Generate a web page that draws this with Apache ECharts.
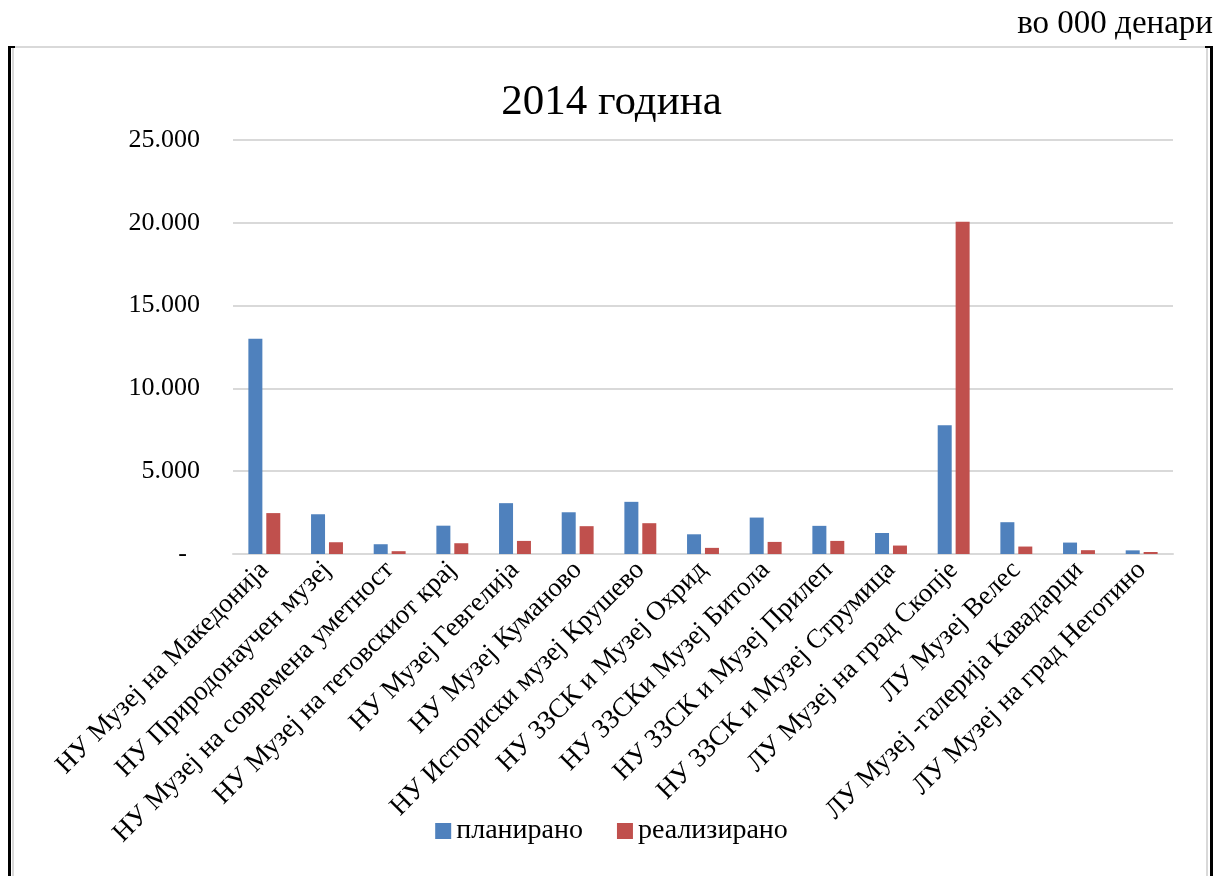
<!DOCTYPE html>
<html>
<head>
<meta charset="utf-8">
<script src="https://cdn.jsdelivr.net/npm/echarts@6/dist/echarts.min.js"></script>
<style>
html,body{margin:0;padding:0;background:#fff;}
#c{width:1223px;height:876px;}
</style>
</head>
<body>
<div id="c"></div>
<script>
const categories = [
  'НУ Музеј на Македонија',
  'НУ Природонаучен музеј',
  'НУ Музеј на современа уметност',
  'НУ Музеј на тетовскиот крај',
  'НУ Музеј Гевгелија',
  'НУ Музеј Куманово',
  'НУ Историски музеј Крушево',
  'НУ ЗЗСК и Музеј Охрид',
  'НУ ЗЗСКи Музеј Битола',
  'НУ ЗЗСК и Музеј Прилеп',
  'НУ ЗЗСК и Музеј Струмица',
  'ЛУ Музеј на град Скопје',
  'ЛУ Музеј Велес',
  'ЛУ Музеј -галерија Кавадарци',
  'ЛУ Музеј на град Неготино'
];
const planned  = [13000, 2400, 590, 1710, 3070, 2520, 3150, 1190, 2200, 1700, 1270, 7780, 1920, 690, 220];
const realized = [2470, 710, 170, 650, 790, 1680, 1860, 370, 730, 790, 510, 20060, 450, 230, 120];
const seriesNames = ['планирано', 'реализирано'];
const yTicks = [0, 5000, 10000, 15000, 20000, 25000];

const font = 'Liberation Serif';
const chart = echarts.init(document.getElementById('c'), null, {renderer: 'canvas'});

function fmt(v) {
  if (v === 0) return '-  ';
  return String(v).replace(/\B(?=(\d{3})+(?!\d))/g, '.');
}

chart.setOption({
  animation: false,
  backgroundColor: '#fff',
  textStyle: {fontFamily: font, color: '#000'},
  title: {
    text: '2014 година',
    left: 'center',
    top: 76,
    textStyle: {fontFamily: font, fontSize: 43, fontWeight: 'normal', color: '#000'}
  },
  legend: {
    data: seriesNames,
    bottom: 26,
    left: 'center',
    itemWidth: 16,
    itemHeight: 16,
    itemGap: 34,
    icon: 'rect',
    textStyle: {fontFamily: font, fontSize: 28, color: '#000'}
  },
  grid: {left: 233, right: 50, top: 140, bottom: 322, containLabel: false},
  xAxis: {
    type: 'category',
    data: categories,
    axisLine: {lineStyle: {color: '#d9d9d9', width: 2}},
    axisTick: {show: false},
    axisLabel: {
      rotate: 45,
      interval: 0,
      margin: 12,
      fontFamily: font,
      fontSize: 27,
      color: '#000'
    }
  },
  yAxis: {
    type: 'value',
    min: 0,
    max: 25000,
    interval: 5000,
    axisLine: {show: false},
    axisTick: {show: false},
    splitLine: {lineStyle: {color: '#d9d9d9', width: 2}},
    axisLabel: {
      margin: 33,
      fontFamily: font,
      fontSize: 26,
      color: '#000',
      formatter: fmt
    }
  },
  series: [
    {
      name: seriesNames[0],
      type: 'bar',
      data: planned,
      barWidth: 14,
      barGap: '28%',
      itemStyle: {color: '#4F81BD'}
    },
    {
      name: seriesNames[1],
      type: 'bar',
      data: realized,
      barWidth: 14,
      itemStyle: {color: '#C0504D'}
    }
  ],
  graphic: [
    {type: 'rect', shape: {x: 13, y: 47, width: 1194, height: 840}, style: {fill: 'none', stroke: '#d9d9d9', lineWidth: 2}, silent: true},
    {type: 'rect', shape: {x: 8, y: 46, width: 3, height: 840}, style: {fill: '#000'}, silent: true},
    {type: 'rect', shape: {x: 1210, y: 46, width: 3, height: 840}, style: {fill: '#000'}, silent: true},
    {type: 'rect', shape: {x: 8, y: 46, width: 7, height: 2}, style: {fill: '#000'}, silent: true},
    {type: 'rect', shape: {x: 1205, y: 46, width: 8, height: 2}, style: {fill: '#000'}, silent: true},
    {
      type: 'text',
      right: 10,
      top: 8,
      style: {text: 'во 000 денари', fontFamily: font, fontSize: 33, fill: '#000'}
    }
  ]
});
</script>
</body>
</html>
